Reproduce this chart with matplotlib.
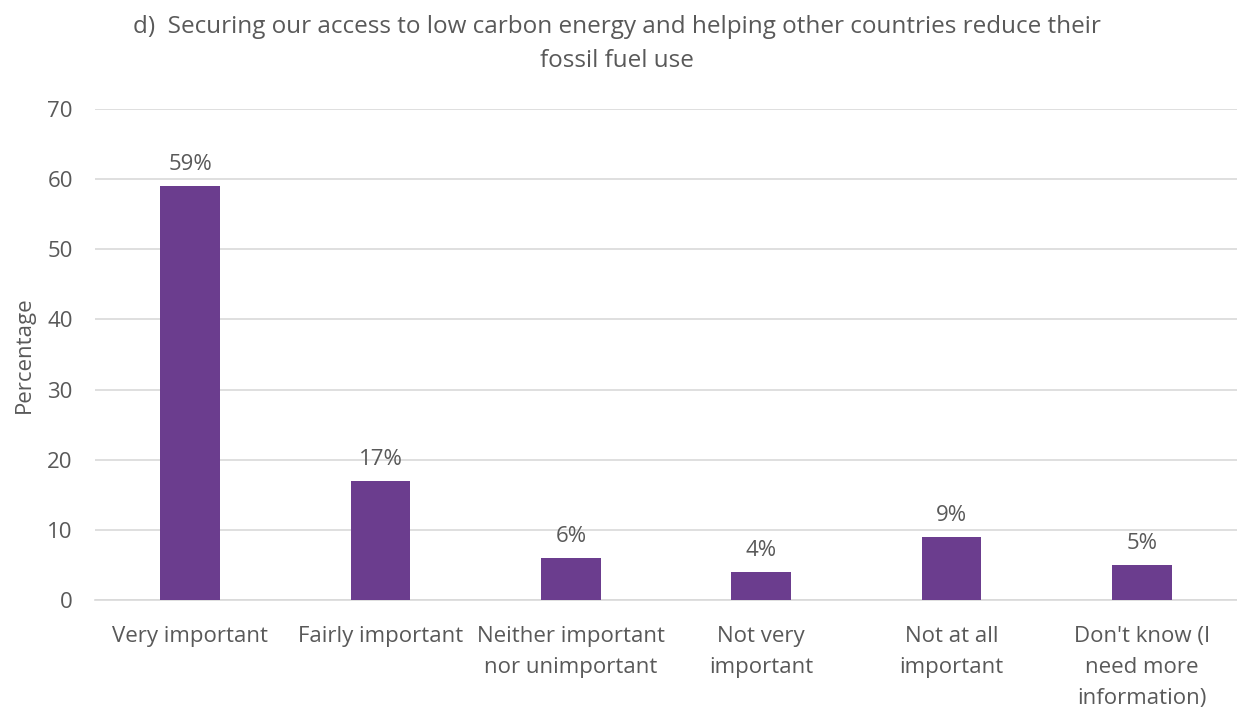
import matplotlib
matplotlib.use("Agg")
import matplotlib.pyplot as plt

categories = ["Very important", "Fairly important", "Neither important\nnor unimportant",
              "Not very\nimportant", "Not at all\nimportant", "Don't know (I\nneed more\ninformation)"]
values = [59, 17, 6, 4, 9, 5]
yticks = [0, 10, 20, 30, 40, 50, 60, 70]
title = "d)  Securing our access to low carbon energy and helping other countries reduce their\nfossil fuel use"

plt.rcParams["font.family"] = ["Open Sans", "DejaVu Sans"]
text_color = "#595959"
bar_color = "#6B3D8E"

fig = plt.figure(figsize=(12.37, 7.09), dpi=100)
ax = fig.add_axes([0.0768, 0.1537, 0.9232, 0.6926])

x = range(len(categories))
ax.bar(x, values, width=0.315, color=bar_color, zorder=3)
for xi, v in zip(x, values):
    ax.annotate(f"{v}%", (xi, v), xytext=(0, 8), textcoords="offset points",
                ha="center", va="bottom", fontsize=16, color=text_color)

ax.set_xlim(-0.5, len(categories) - 0.5)
ax.set_ylim(0, 70)
ax.set_yticks(yticks)
ax.set_xticks(list(x))
ax.set_xticklabels(categories, linespacing=1.6)
ax.tick_params(axis="both", length=0, labelsize=16, colors=text_color)
ax.tick_params(axis="x", pad=19)
ax.tick_params(axis="y", pad=16)
ax.grid(axis="y", color="#D9D9D9", linewidth=1.2, zorder=0)
for s in ["top", "right", "left"]:
    ax.spines[s].set_visible(False)
ax.spines["bottom"].set_color("#D9D9D9")
ax.spines["bottom"].set_linewidth(1.2)

ax.set_ylabel("Percentage", fontsize=16, color=text_color, labelpad=9)
fig.text(0.499, 0.979, title, ha="center", va="top", fontsize=17.5,
         color=text_color, linespacing=1.55)

fig.savefig("out.png", dpi=100)
